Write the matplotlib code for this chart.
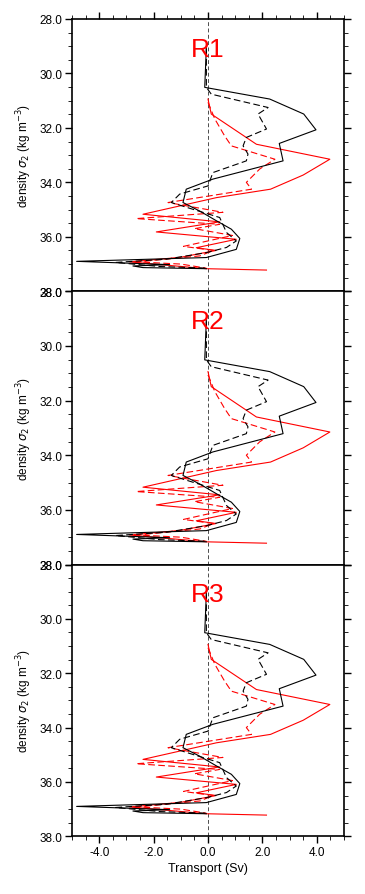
import matplotlib
matplotlib.use("Agg")
import matplotlib.pyplot as plt
from matplotlib.ticker import MultipleLocator, FormatStrFormatter

plt.rcParams['font.family'] = ['Liberation Sans', 'DejaVu Sans']
plt.rcParams['axes.unicode_minus'] = False

panel_titles = ["R1", "R2", "R3"]

# black solid
bs_x = [-0.06, -0.12, 2.27, 3.52, 3.97, 2.62, 2.76, 0.18, -0.8, -0.92, -0.31, 0.31, 0.86, 1.17, 1.04, -0.06, -4.83, -1.41, -2.76, -2.39, -0.06]
bs_y = [29.04, 30.51, 30.94, 31.49, 32.07, 32.57, 33.21, 33.88, 34.25, 34.74, 35.05, 35.41, 35.72, 36.06, 36.46, 36.76, 36.9, 37.02, 37.07, 37.13, 37.17]
# black dashed
bd_x = [-0.06, -0.06, 0.12, 2.21, 1.84, 2.15, 1.41, 1.29, 1.47, 1.41, 0.18, 0.0, -1.04, -1.35, -0.55, 0.43, 0.68, 1.04, 0.68, -0.06, -1.53, -3.4, -1.78, -0.06]
bd_y = [29.1, 30.51, 30.76, 31.25, 31.49, 32.04, 32.35, 32.66, 32.96, 33.21, 33.64, 34.13, 34.43, 34.74, 34.99, 35.29, 35.84, 36.15, 36.39, 36.58, 36.82, 36.94, 37.09, 37.15]
# red solid
rs_x = [0.0, 0.12, 1.78, 4.48, 3.5, 2.3, 0.31, -2.39, 0.43, -1.9, 1.04, -0.43, 0.3, -1.0, -2.88, -0.06, 2.15]
rs_y = [30.94, 31.49, 32.6, 33.15, 33.73, 34.25, 34.56, 35.17, 35.45, 35.82, 36.09, 36.4, 36.5, 36.75, 36.92, 37.17, 37.22]
# red dashed
rd_x = [0.0, 0.25, 0.61, 0.86, 2.46, 1.9, 1.41, 1.6, -1.47, 0.55, -2.64, 0.43, -0.5, 0.9, -0.9, 0.2, -0.3, -2.6, -1.0, -0.06]
rd_y = [31.06, 31.67, 32.29, 32.66, 33.15, 33.51, 34.0, 34.25, 34.74, 35.1, 35.33, 35.54, 35.7, 35.95, 36.35, 36.5, 36.7, 36.92, 37.0, 37.15]

W, H = 365, 895
fig = plt.figure(figsize=(W / 100, H / 100), dpi=100)

left_px, right_px = 72, 344
tops = [20, 292.3, 565.5]
bots = [292.3, 565.5, 837.3]

for i, title in enumerate(panel_titles):
    ax = fig.add_axes([left_px / W, 1 - bots[i] / H, (right_px - left_px) / W, (bots[i] - tops[i]) / H])
    ax.axvline(0, color='0.3', ls=(0, (4, 2.5)), lw=0.7, zorder=1)
    ax.plot(bs_x, bs_y, color='black', lw=0.8, zorder=3)
    ax.plot(bd_x, bd_y, color='black', lw=0.8, ls=(0, (6, 3)), zorder=3)
    ax.plot(rs_x, rs_y, color='red', lw=0.8, zorder=2)
    ax.plot(rd_x, rd_y, color='red', lw=0.8, ls=(0, (6, 3)), zorder=2)
    ax.set_xlim(-5, 5)
    ax.set_ylim(38, 28)
    ax.xaxis.set_major_locator(MultipleLocator(2))
    ax.xaxis.set_minor_locator(MultipleLocator(0.5))
    ax.yaxis.set_major_locator(MultipleLocator(2))
    ax.yaxis.set_minor_locator(MultipleLocator(0.5))
    ax.xaxis.set_major_formatter(FormatStrFormatter('%.1f'))
    ax.yaxis.set_major_formatter(FormatStrFormatter('%.1f'))
    for sp in ax.spines.values():
        sp.set_linewidth(1.2)
    ax.tick_params(which='major', direction='out', length=5, width=1.0, labelsize=8.5, pad=2)
    ax.tick_params(which='minor', direction='out', length=2.8, width=0.6)
    ax.tick_params(axis='y', which='both', left=True, right=True)
    top_on = (i == 0)
    bot_on = (i == 2)
    ax.tick_params(axis='x', which='both', top=top_on, bottom=bot_on, labelbottom=bot_on, labeltop=False)
    ax.set_ylabel(r'density $\sigma_2$ (kg m$^{-3}$)', fontsize=8.5, labelpad=4)
    ax.text(0, 29.1, title, color='red', fontsize=19, ha='center', va='center', zorder=5)
    if bot_on:
        ax.set_xlabel('Transport (Sv)', fontsize=9, labelpad=3)

fig.savefig('out.png', dpi=100)
